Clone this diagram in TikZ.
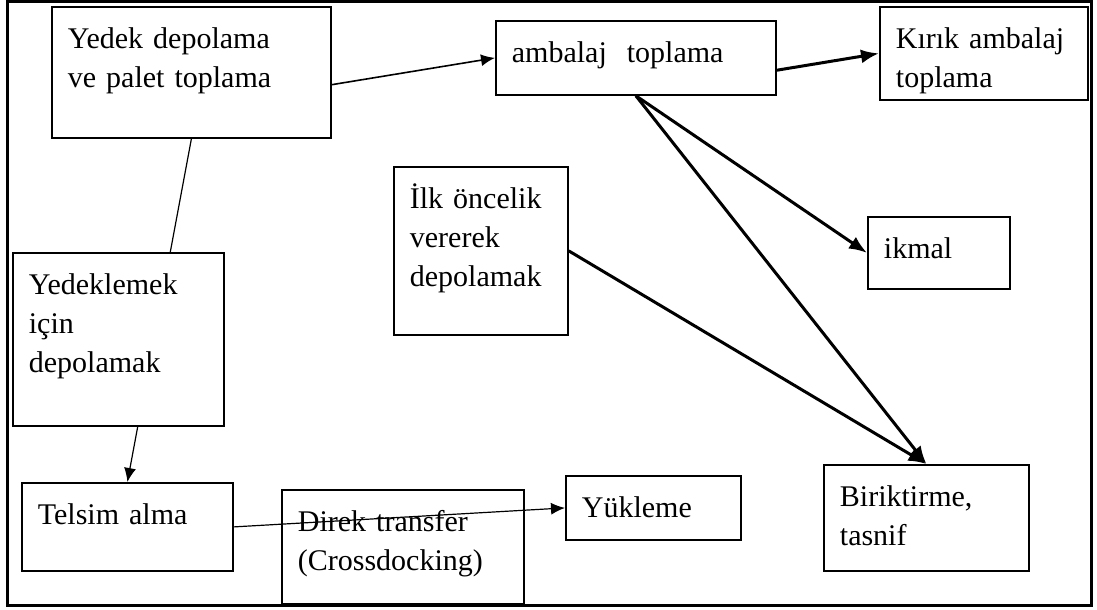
\documentclass[tikz,border=0pt]{standalone}
\usepackage{fontspec}
\setmainfont{Liberation Serif}
\usetikzlibrary{arrows.meta}
\begin{document}
\begin{tikzpicture}[x=0.5pt,y=-0.5pt,
  box/.style={draw,line width=0.9pt,fill=white,anchor=north west,align=left,
    inner xsep=8pt,inner ysep=0pt,text height=21pt,
    font=\fontsize{15pt}{19.5pt}\selectfont},
  link/.style={-{Latex[length=7pt,width=6pt]},line width=0.6pt},
  heavy/.style={-{Latex[length=9pt,width=7pt]},line width=1.5pt}]
\useasboundingbox (0,0) rectangle (1097,610);
\draw[line width=1.5pt] (7,2) rectangle (1091,605);

\node[name=yedek,box,text width=123.5pt,text depth=44.5pt] at (51,6) {Yedek depolama\\ve palet toplama};
\node[name=ambalaj,box,text width=124pt,text depth=16pt] at (495,20) {ambalaj\ \ toplama};
\node[name=kirik,box,text width=88pt,text depth=25.5pt] at (879,6) {Kırık ambalaj\\toplama};
\node[name=ilk,box,text width=71pt,text depth=63pt] at (393,166) {İlk öncelik\\vererek\\depolamak};
\node[name=ikmal,box,text width=55pt,text depth=15pt] at (867,216) {ikmal};
\node[name=telsim,box,text width=89.5pt,text depth=23pt] at (21,482) {Telsim alma};
\node[name=direk,box,text width=105pt,text depth=36pt] at (281,489) {Direk transfer\\(Crossdocking)};
\node[name=yukle,box,text width=71.5pt,text depth=11pt] at (565,475) {Yükleme};
\node[name=birik,box,text width=86.5pt,text depth=32pt] at (823,464) {Biriktirme,\\tasnif};

\draw[link] (yedek.south) to (telsim.north);
\node[name=yedekle,box,text width=89.5pt,text depth=65.5pt] at (12,252) {Yedeklemek\\için\\depolamak};

\draw[link,line width=0.8pt] (yedek.-5) to (ambalaj.west);
\draw[heavy] (ambalaj.-5) to (kirik.west);
\draw[heavy] (ambalaj.south) to (ikmal.west);
\draw[heavy] (ambalaj.south) to (birik.north);
\draw[heavy] (ilk.east) to (birik.north);
\draw[link] (telsim.east) to (yukle.west);
\end{tikzpicture}
\end{document}
